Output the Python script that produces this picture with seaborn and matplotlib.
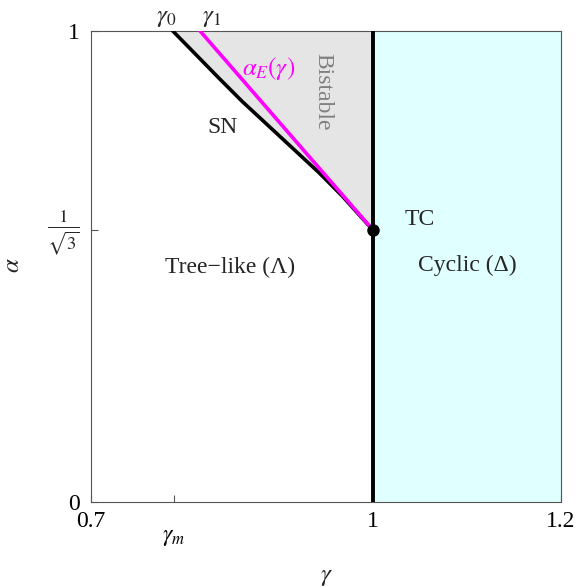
import numpy as np
import matplotlib
matplotlib.use("Agg")
import matplotlib.pyplot as plt
import seaborn as sns

# saddle-node curve (gamma, alpha)
sn_alpha = [1.0, 0.95, 0.9, 0.85, 0.8, 0.75, 0.7, 0.65, 0.6, 0.577]
sn_gamma = [0.787, 0.8115, 0.836, 0.861, 0.888, 0.915, 0.942, 0.967, 0.9895, 1.0]

# alpha_E(gamma) line
ae_gamma = [0.816, 1.0]
ae_alpha = [1.0, 0.577]

gamma_m = 0.788
gamma_c = 1.0
alpha_tc = 1 / np.sqrt(3)

sns.set_theme(style="white")
plt.rcParams["font.family"] = ["Liberation Serif", "DejaVu Serif"]
plt.rcParams["mathtext.fontset"] = "stix"

fig = plt.figure(figsize=(5.85, 5.87), dpi=100)
ax = fig.add_axes([0.1556, 0.1453, 0.8034, 0.8019])

# regions
ax.axvspan(gamma_c, 1.2, color="#e0ffff", zorder=0)
ax.fill_betweenx(sn_alpha, sn_gamma, gamma_c, color="#e5e5e5", zorder=1)

sns.lineplot(x=sn_gamma, y=sn_alpha, sort=False, color="black", lw=2.6, ax=ax, zorder=3)
sns.lineplot(x=ae_gamma, y=ae_alpha, sort=False, color="#ff00ff", lw=2.6, ax=ax, zorder=4)
ax.plot([gamma_c, gamma_c], [0, 1], color="black", lw=2.8, zorder=5)
ax.plot([gamma_c], [alpha_tc], "o", color="black", ms=8, zorder=6, clip_on=False)

ax.set_xlim(0.7, 1.2)
ax.set_ylim(0, 1)

ax.set_xticks([0.7, 1, 1.2], labels=["0.7", "1", "1.2"])
ax.set_xticks([gamma_m], minor=True, labels=[r"$\gamma_m$"])
ax.set_yticks([0, 1], labels=["0", "1"])
ax.set_yticks([alpha_tc], minor=True, labels=[""])
ax.tick_params(which="both", direction="in", length=5, width=0.8, colors="#555555",
               labelcolor="black", labelsize=17, bottom=True, left=True)
ax.tick_params(axis="x", which="major", pad=7)
ax.tick_params(axis="x", which="minor", pad=18)
ax.tick_params(axis="y", which="major", pad=8)

# 1/sqrt(3) tick label, placed by hand for vertical centring
ax.text(-0.023, alpha_tc - 0.006, r"$\frac{1}{\sqrt{3}}$", fontsize=19,
        ha="right", va="center", transform=ax.get_yaxis_transform())

for s in ax.spines.values():
    s.set_color("#555555")
    s.set_linewidth(0.8)

ax.set_xlabel(r"$\gamma$", fontsize=18)
ax.set_ylabel(r"$\alpha$", fontsize=18)
ax.xaxis.set_label_coords(0.5, -0.137)
ax.yaxis.set_label_coords(-0.1425, 0.503)

# top labels gamma_0, gamma_1
ax.text(0.780, 1.004, r"$\gamma_0$", fontsize=18, ha="center", va="bottom")
ax.text(0.828, 1.004, r"$\gamma_1$", fontsize=18, ha="center", va="bottom")

ax.text(0.8395, 0.796, "SN", fontsize=17, ha="center", va="center")
ax.text(0.947, 0.870, "Bistable", fontsize=17, ha="center", va="center",
        rotation=-90, color="#808080")
ax.text(0.8885, 0.921, r"$\alpha_E(\gamma)$", fontsize=18, ha="center", va="center",
        color="#ff00ff")
ax.text(1.050, 0.599, "TC", fontsize=17, ha="center", va="center")
ax.text(1.100, 0.503, "Cyclic (Δ)", fontsize=17, ha="center", va="center")
ax.text(0.848, 0.497, "Tree−like (Λ)", fontsize=17, ha="center", va="center")

fig.savefig("out.png", dpi=100)
